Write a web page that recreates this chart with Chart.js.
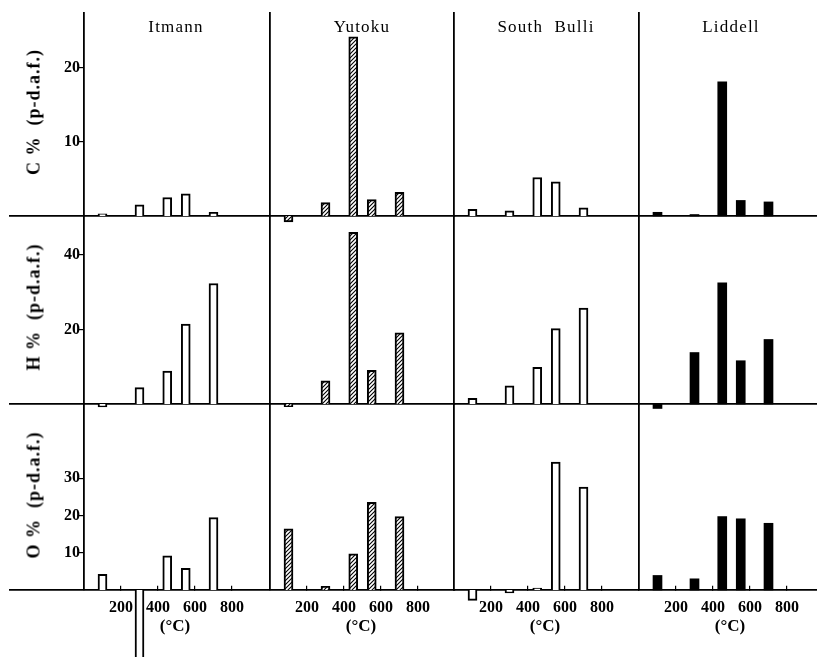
<!DOCTYPE html>
<html>
<head>
<meta charset="utf-8">
<script src="https://cdn.jsdelivr.net/npm/chart.js@4.4.1/dist/chart.umd.min.js"></script>
<style>
  body { margin:0; background:#fff; width:817px; height:657px; overflow:hidden; position:relative; font-family:"Liberation Serif", serif; }
  canvas { position:absolute; }
  .lbl { position:absolute; color:#000; white-space:pre; }
  .head { font-size:17px; letter-spacing:1.2px; word-spacing:6px; transform:translate(-50%,-50%); }
  .ytitle { font-size:18px; letter-spacing:1px; font-weight:bold; transform:translate(-50%,-50%) rotate(-90deg); }
  .unit { font-size:17px; font-weight:bold; transform:translate(-50%,-50%); }
</style>
</head>
<body>
<script>
// temperatures of the fractions (deg C)
const temps = [100, 300, 450, 550, 700];
const coals = ['Itmann', 'Yutoku', 'South Bulli', 'Liddell'];

const itmannC = [0.3, 1.5, 2.5, 3.0, 0.5];
const yutokuC = [-0.8, 1.8, 24.2, 2.2, 3.2];
const southBulliC = [0.9, 0.7, 5.2, 4.6, 1.1];
const liddellC = [0.5, 0.2, 18.1, 2.1, 1.9];

const itmannH = [-0.8, 4.4, 8.8, 21.4, 32.3];
const yutokuH = [-0.7, 6.2, 46.0, 9.0, 19.1];
const southBulliH = [1.5, 4.9, 9.8, 20.2, 25.7];
const liddellH = [-1.2, 13.8, 32.5, 11.6, 17.3];

const itmannO = [4.2, -30, 9.2, 5.8, 19.4];
const yutokuO = [16.4, 1.0, 9.7, 23.5, 19.7];
const southBulliO = [-2.8, -0.8, 0.5, 34.3, 27.6];
const liddellO = [3.9, 3.0, 19.7, 19.1, 17.9];

const cTicks = [10, 20];
const hTicks = [20, 40];
const oTicks = [10, 20, 30];
const tempTicks = [200, 400, 600, 800];

const rows = [
  { title: 'C %  (p-d.a.f.)', top: 13, base: 216, max: 27.4, ticks: cTicks, titleY: 112,
    series: [itmannC, yutokuC, southBulliC, liddellC] },
  { title: 'H %  (p-d.a.f.)', top: 216, base: 404, max: 50.4, ticks: hTicks, titleY: 307,
    series: [itmannH, yutokuH, southBulliH, liddellH] },
  { title: 'O %  (p-d.a.f.)', top: 404, base: 590, max: 49.9, ticks: oTicks, titleY: 495,
    series: [itmannO, yutokuO, southBulliO, liddellO] }
];

const colAxis = [84, 270, 454, 639];
const pxPerDeg = 0.185;

function hatch() {
  const c = document.createElement('canvas');
  c.width = 4; c.height = 4;
  const g = c.getContext('2d');
  g.fillStyle = '#fff';
  g.fillRect(0, 0, 4, 4);
  g.strokeStyle = '#000';
  g.lineWidth = 1.1;
  g.beginPath();
  g.moveTo(0, 4); g.lineTo(4, 0);
  g.moveTo(-1, 1); g.lineTo(1, -1);
  g.moveTo(3, 5); g.lineTo(5, 3);
  g.stroke();
  return g.createPattern(c, 'repeat');
}

const fills = ['#fff', hatch(), '#fff', '#000'];
const font = { family: 'Liberation Serif', size: 16, weight: 'bold' };

function addLabel(cls, text, x, y) {
  const d = document.createElement('div');
  d.className = 'lbl ' + cls;
  d.textContent = text;
  d.style.left = x + 'px';
  d.style.top = y + 'px';
  document.body.appendChild(d);
}

function makeChart(r, c) {
  const row = rows[r];
  const bottomRow = r === 2;
  const xMin = c === 0 ? -400 : 0;
  const areaW = Math.round((1000 - xMin) * pxPerDeg);
  const areaLeft = colAxis[c] + xMin * pxPerDeg;
  const padLeft = c === 0 ? 10 : 2;
  const padTop = r === 0 ? 13 : 10;
  const padBottom = bottomRow ? 657 - row.base : 14;
  const padRight = 2;

  const canvas = document.createElement('canvas');
  const w = padLeft + areaW + padRight;
  const h = padTop + (row.base - row.top) + padBottom;
  canvas.width = w; canvas.height = h;
  canvas.style.width = w + 'px';
  canvas.style.height = h + 'px';
  canvas.style.left = (areaLeft - padLeft) + 'px';
  canvas.style.top = (row.top - padTop) + 'px';
  document.body.appendChild(canvas);

  const setTicks = s => { s.ticks = row.ticks.map(v => ({ value: v })); };

  new Chart(canvas, {
    type: 'bar',
    data: {
      datasets: [{
        data: temps.map((t, i) => ({ x: t, y: row.series[c][i] })),
        backgroundColor: fills[c],
        borderColor: '#000',
        borderWidth: c === 3 ? 0 : 2,
        barThickness: 9,
        clip: false
      }]
    },
    options: {
      responsive: false,
      animation: false,
      devicePixelRatio: 1,
      layout: { padding: { left: padLeft, right: padRight, top: padTop, bottom: padBottom } },
      plugins: { legend: { display: false }, tooltip: { enabled: false } },
      scales: {
        x: {
          type: 'linear',
          min: xMin,
          max: 1000,
          offset: false,
          position: { y: 0 },
          border: { display: true, color: '#000', width: 1.8 },
          grid: { display: bottomRow, offset: false, drawOnChartArea: false, drawTicks: bottomRow,
                  tickLength: -5, color: '#000', lineWidth: 1.2 },
          ticks: { display: bottomRow, color: '#000', font: font, padding: 13, maxRotation: 0 },
          afterBuildTicks: s => { s.ticks = tempTicks.map(v => ({ value: v })); }
        },
        y: {
          type: 'linear',
          min: 0,
          max: row.max,
          position: { x: 0 },
          border: { display: true, color: '#000', width: 1.8 },
          grid: { display: c === 0, drawOnChartArea: false, drawTicks: c === 0, tickLength: 4,
                  color: '#000', lineWidth: 1.2 },
          ticks: { display: false },
          afterBuildTicks: setTicks
        },
        // tick labels sit a little left of the axis line
        yl: {
          type: 'linear',
          axis: 'y',
          min: 0,
          max: row.max,
          position: { x: -22 },
          display: c === 0,
          border: { display: false },
          grid: { display: false, drawTicks: false },
          ticks: { color: '#000', font: font, padding: 0 },
          afterBuildTicks: setTicks
        }
      }
    }
  });
}

rows.forEach((row, r) => {
  coals.forEach((name, c) => makeChart(r, c));
  addLabel('ytitle', row.title, 34, row.titleY);
});

coals.forEach((name, c) => {
  addLabel('head', name, colAxis[c] + 92, 27);
  addLabel('unit', '(°C)', colAxis[c] + 91, 626);
});
</script>
</body>
</html>
